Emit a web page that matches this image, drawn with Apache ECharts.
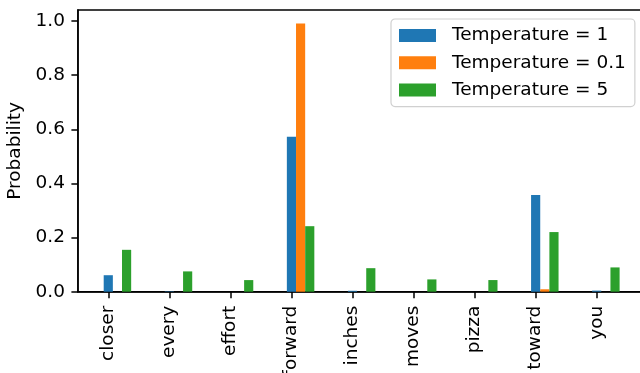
<!DOCTYPE html>
<html>
<head>
<meta charset="utf-8">
<script src="https://cdn.jsdelivr.net/npm/echarts@6/dist/echarts.min.js"></script>
<style>
  html, body { margin: 0; padding: 0; background: #fff; }
  #chart { width: 640px; height: 373px; }
</style>
</head>
<body>
<div id="chart"></div>
<script>
// Next-token vocabulary
const categories = ['closer', 'every', 'effort', 'forward', 'inches', 'moves', 'pizza', 'toward', 'you'];

// Softmax probabilities for each temperature
const temp1   = [0.0609, 0.0016, 0.0001, 0.5721, 0.0034, 0.0001, 0.0001, 0.3576, 0.0040];
const temp01  = [0.0000, 0.0000, 0.0000, 0.9910, 0.0000, 0.0000, 0.0000, 0.0090, 0.0000];
const temp5   = [0.1547, 0.0750, 0.0429, 0.2420, 0.0869, 0.0454, 0.0430, 0.2203, 0.0897];

const seriesNames = ['Temperature = 1', 'Temperature = 0.1', 'Temperature = 5'];
const seriesValues = [temp1, temp01, temp5];
const colors = ['#1f77b4', '#ff7f0e', '#2ca02c'];

const yTicks = [0, 0.2, 0.4, 0.6, 0.8, 1.0];

const BAR_W = 0.15;
const FONT = 'DejaVu Sans';
const FS = 18.5;

const tickPositions = categories.map((_, i) => i);

function renderBar(params, api) {
  const x = api.value(0);
  const y = api.value(1);
  const p0 = api.coord([x - BAR_W / 2, 0]);
  const p1 = api.coord([x + BAR_W / 2, y]);
  return {
    type: 'rect',
    shape: { x: p0[0], y: p1[1], width: p1[0] - p0[0], height: p0[1] - p1[1] },
    style: api.style()
  };
}

const series = seriesValues.map((vals, k) => ({
  name: seriesNames[k],
  type: 'custom',
  renderItem: renderBar,
  itemStyle: { color: colors[k] },
  encode: { x: 0, y: 1 },
  data: vals.map((v, i) => [i + k * BAR_W, v])
}));

const chart = echarts.init(document.getElementById('chart'), null, { renderer: 'canvas' });
chart.setOption({
  animation: false,
  backgroundColor: '#fff',
  textStyle: { fontFamily: FONT, color: '#000' },
  grid: {
    left: 77.9, right: -5.4, top: 10, bottom: 81.3,
    outerBoundsMode: 'none',
    containLabel: false,
    show: true, borderColor: '#000', borderWidth: 1.5, backgroundColor: 'transparent'
  },
  legend: {
    orient: 'vertical',
    left: 391, top: 19,
    padding: [7, 9, 7, 8],
    itemWidth: 37, itemHeight: 13, itemGap: 8.3,
    icon: 'rect',
    backgroundColor: '#fff',
    borderColor: '#d0d0d0', borderWidth: 1.2, borderRadius: 4,
    textStyle: { fontFamily: FONT, fontSize: FS, color: '#000', padding: [0, 0, 0, 11] },
    data: seriesNames
  },
  xAxis: {
    type: 'value',
    min: -0.4975, max: 8.7975,
    axisLine: { show: true, onZero: false, lineStyle: { color: '#000', width: 1.5 } },
    axisTick: { show: true, length: 6.5, customValues: tickPositions, lineStyle: { color: '#000', width: 1.5 } },
    axisLabel: {
      customValues: tickPositions,
      rotate: 90, margin: 14,
      fontFamily: FONT, fontSize: FS, color: '#000',
      formatter: v => categories[Math.round(v)]
    },
    splitLine: { show: false }
  },
  yAxis: {
    type: 'value',
    min: 0, max: 1.0406,
    name: 'Probability',
    nameLocation: 'middle', nameRotate: 90, nameGap: 45,
    nameTextStyle: { fontFamily: FONT, fontSize: FS, color: '#000' },
    axisLine: { show: true, onZero: false, lineStyle: { color: '#000', width: 1.5 } },
    axisTick: { show: true, length: 6.5, customValues: yTicks, lineStyle: { color: '#000', width: 1.5 } },
    axisLabel: {
      customValues: yTicks,
      margin: 13,
      fontFamily: FONT, fontSize: FS, color: '#000',
      formatter: v => v.toFixed(1)
    },
    splitLine: { show: false }
  },
  series: series
});
</script>
</body>
</html>
